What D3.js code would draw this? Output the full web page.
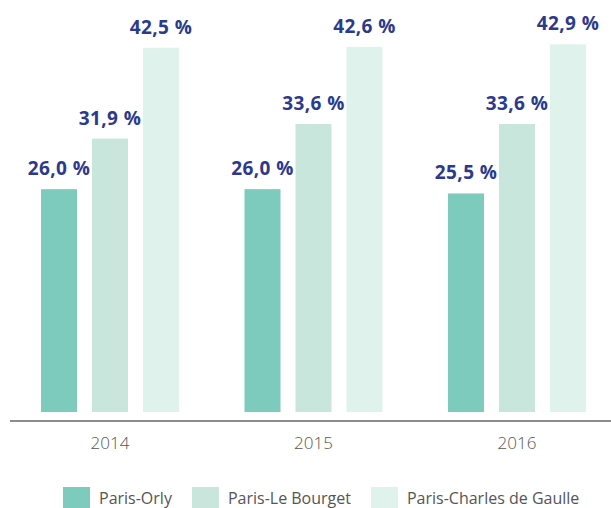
<!DOCTYPE html>
<html>
<head>
<meta charset="utf-8">
<script src="https://cdn.jsdelivr.net/npm/d3@7"></script>
<style>
  body { margin: 0; background: #fff; }
  svg { display: block; font-family: "Open Sans", sans-serif; }
</style>
</head>
<body>
<div class="chart"></div>
<script>
// chart data
const years = ['2014', '2015', '2016'];
const airports = ['Paris-Orly', 'Paris-Le Bourget', 'Paris-Charles de Gaulle'];
const orly = [26.0, 26.0, 25.5];
const bourget = [31.9, 33.6, 33.6];
const cdg = [42.5, 42.6, 42.9];
const colors = ['#7ccbbd', '#c9e6dd', '#e0f2ec'];

const series = [orly, bourget, cdg];
const data = years.map((y, i) => ({
    year: y,
    values: airports.map((a, j) => ({airport: a, value: series[j][i]}))
}));

const width = 611;
const height = 508;
const baseY = 412;

const svg = d3.select('.chart')
    .append('svg')
    .attr('width', width)
    .attr('height', height);

const x0 = d3.scaleBand()
    .domain(years)
    .range([41, 586])
    .paddingInner(0.322)
    .paddingOuter(0);

const x1 = d3.scaleBand()
    .domain(airports)
    .range([0, x0.bandwidth()])
    .paddingInner(0.294)
    .paddingOuter(0);

const yScale = d3.scaleLinear()
    .domain([0, 48.07])
    .range([baseY, 0]);

const colorScale = d3.scaleOrdinal()
    .domain(airports)
    .range(colors);

const groups = svg.selectAll('.group')
    .data(data)
    .enter()
    .append('g')
    .attr('class', 'group')
    .attr('transform', d => `translate(${x0(d.year)},0)`);

groups.selectAll('rect')
    .data(d => d.values)
    .enter()
    .append('rect')
    .attr('x', d => x1(d.airport))
    .attr('y', d => yScale(d.value))
    .attr('width', x1.bandwidth())
    .attr('height', d => baseY - yScale(d.value))
    .attr('fill', d => colorScale(d.airport));

// value labels
groups.selectAll('text')
    .data(d => d.values)
    .enter()
    .append('text')
    .attr('x', d => x1(d.airport) + x1.bandwidth() / 2)
    .attr('y', d => yScale(d.value) - 14)
    .attr('text-anchor', 'middle')
    .attr('fill', '#2b3a8b')
    .attr('font-size', 19)
    .attr('font-weight', 700)
    .attr('letter-spacing', 0.4)
    .text(d => d3.format('.1f')(d.value).replace('.', ',') + ' %');

// baseline
svg.append('line')
    .attr('x1', 10)
    .attr('x2', width)
    .attr('y1', 421)
    .attr('y2', 421)
    .attr('stroke', '#8c8c8c')
    .attr('stroke-width', 2);

const xAxis = d3.axisBottom(x0)
    .tickSize(0)
    .tickPadding(16);

svg.append('g')
    .attr('class', 'axis x-axis')
    .attr('transform', 'translate(0,421)')
    .call(xAxis)
    .call(g => g.select('.domain').remove())
    .call(g => g.selectAll('text')
        .attr('fill', '#555')
        .attr('font-size', 17)
        .attr('font-weight', 300)
        .attr('font-family', '"Open Sans", sans-serif'));

// legend
const legend = svg.append('g').attr('class', 'legend');
let lx = 63;
airports.forEach(a => {
    legend.append('rect')
        .attr('x', lx)
        .attr('y', 487)
        .attr('width', 27)
        .attr('height', 27)
        .attr('fill', colorScale(a));
    const t = legend.append('text')
        .attr('x', lx + 36)
        .attr('y', 504)
        .attr('fill', '#555')
        .attr('font-size', 16)
        .text(a);
    lx = lx + 36 + t.node().getComputedTextLength() + 20;
});
</script>
</body>
</html>
